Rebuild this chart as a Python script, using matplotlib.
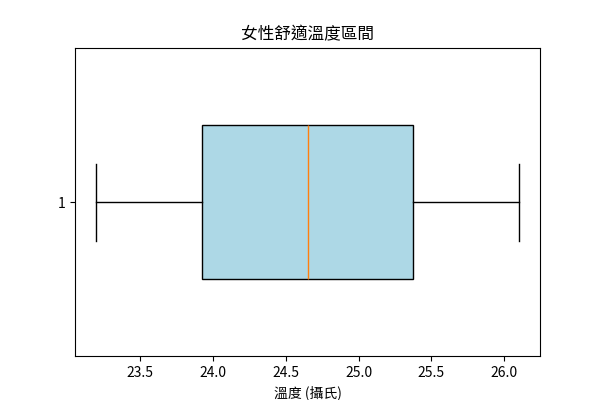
import matplotlib
matplotlib.use("Agg")
import matplotlib.pyplot as plt

plt.rcParams['font.family'] = ['Noto Sans CJK TC', 'DejaVu Sans']

temps = [23.2, 23.926, 24.653, 25.373, 26.1]
title = "女性舒適溫度區間"
xlabel = "溫度 (攝氏)"

fig, ax = plt.subplots(figsize=(6, 4), dpi=100)
ax.boxplot(temps, vert=False, widths=0.5, patch_artist=True,
           boxprops=dict(facecolor='lightblue'))
ax.set_title(title)
ax.set_xlabel(xlabel)
fig.savefig("out.png", dpi=100)
